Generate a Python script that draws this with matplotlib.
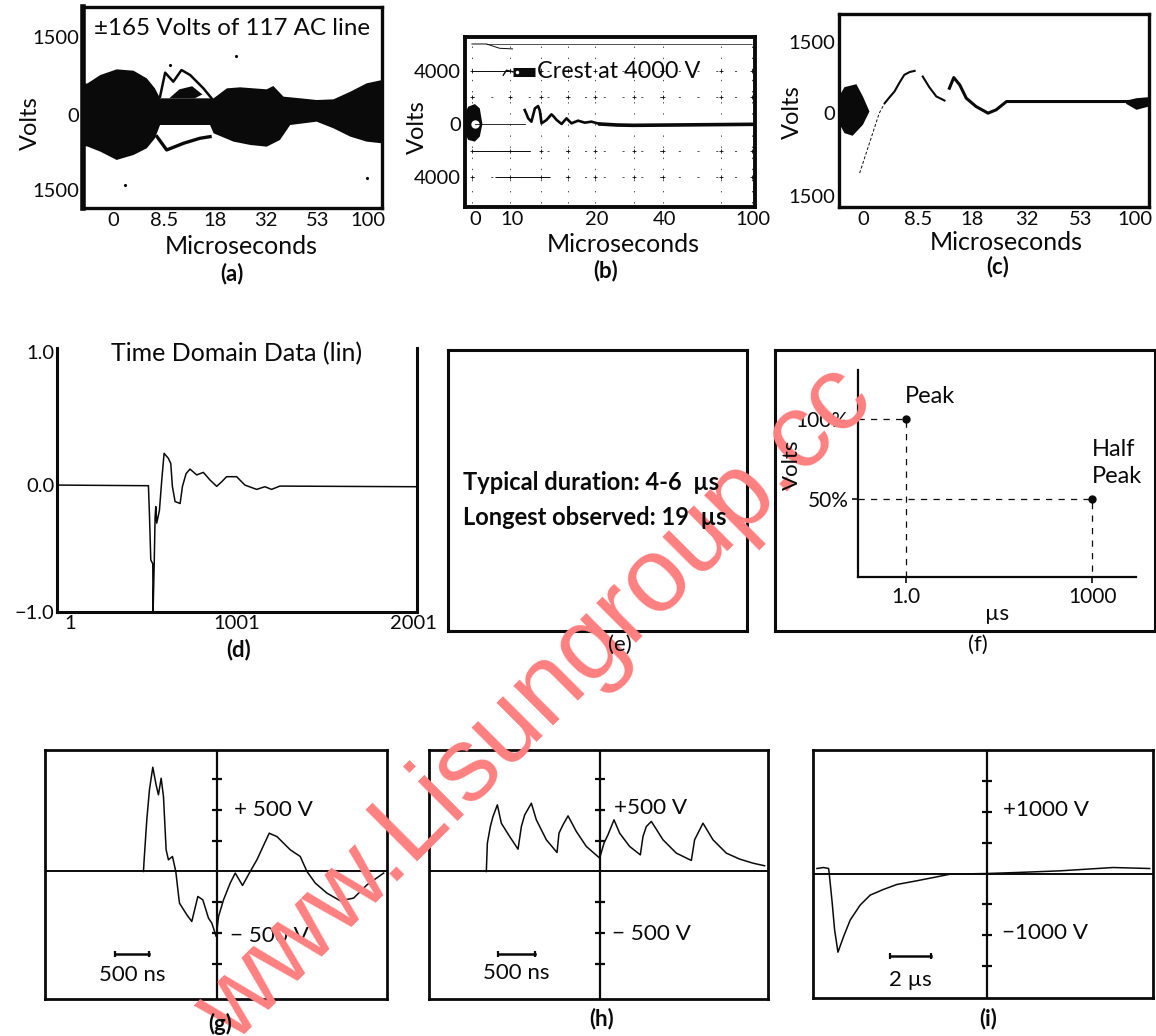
import matplotlib
matplotlib.use("Agg")
import matplotlib.pyplot as plt
from matplotlib.ticker import NullLocator

plt.rcParams['font.family'] = ['Lato', 'DejaVu Sans']

W, H = 1156, 1036
INK = '#0a0a0a'

# panel (a) - envelope of the AC line, x in scale divisions
a_x_up = [-0.60, -0.50, -0.25, 0.07, 0.40, 0.66, 0.82, 0.92, 1.97, 2.23, 2.49, 3.01, 3.14, 3.34, 3.67, 3.99, 4.32, 4.65, 4.97, 5.27]
a_v_up = [600, 617, 779, 889, 863, 714, 519, 325, 325, 519, 539, 500, 565, 357, 325, 292, 305, 454, 617, 681]
a_x_low = [-0.60, -0.50, -0.25, 0.07, 0.40, 0.66, 0.82, 0.92, 1.90, 1.97, 2.36, 2.69, 3.01, 3.27, 3.47, 3.99, 4.32, 4.65, 4.97, 5.27]
a_v_low = [-600, -615, -714, -876, -779, -649, -454, -195, -195, -357, -519, -584, -617, -487, -195, -130, -260, -422, -519, -552]
a_loop1_x = [0.92, 1.02, 1.18, 1.34, 1.51, 1.77, 1.93]
a_loop1_v = [357, 825, 649, 876, 779, 519, 325]
a_loop2_x = [0.86, 1.05, 1.38, 1.70, 1.90]
a_loop2_v = [-422, -681, -551, -454, -422]
a_isle_x = [1.10, 1.30, 1.55, 1.75, 1.60, 1.30]
a_isle_v = [325, 500, 560, 400, 325, 325]
a_specks_x = [0.24, 1.12, 4.98, 2.4]
a_specks_v = [-1370, 980, -1230, 1150]
a_ticks = [0, 1, 2, 3, 4, 5]
a_tick_labels = ['0', '8.5', '18', '32', '53', '100']

# panel (b)
b_trace_x = [1.72, 1.78, 1.84, 1.95, 2.07, 2.18, 2.24, 2.30, 2.47, 2.64, 2.72, 2.82, 2.99, 3.16, 3.33, 3.56, 3.79, 4.02, 4.31]
b_trace_v = [1046, 750, 423, 174, 1170, 1345, 1000, 50, 299, 722, 560, 299, 0, 423, 50, 249, 100, 174, 0]
b_tail_x = [4.31, 4.89, 5.46, 9.54]
b_tail_v = [0, -75, -100, -25]
b_blob_x = [-0.34, -0.23, 0, 0.17, 0.26, 0.17, 0, -0.23, -0.34]
b_blob_v = [797, 1295, 1494, 1170, 0, -946, -1320, -1195, -697]
b_ticks = [0, 1.28, 4.2, 6.55, 9.6]
b_tick_labels = ['0', '10', '20', '40', '100']
b_ytick_v = [-4000, 0, 4000]
b_ytick_labels = ['4000', '0', '4000']
b_grid_x = [-0.1, 1.2, 2.28, 3.2, 4.15, 5.5, 6.5, 8.5, 9.55]
b_grid_v = [-4000, -2000, 2000, 4000]
b_top_x = [-0.1, 0.4, 0.85, 1.3]
b_top_v = [6000, 6000, 5680, 5630]
b_lead_x = [0.98, 1.09, 1.32]
b_lead_v = [3660, 4030, 3910]
b_crest_x = [1.32, 2.07]
b_crest_v = [3934, 3934]
b_seg_x0 = [-0.1, 0.7, -0.1]
b_seg_x1 = [1.2, 2.6, 1.9]
b_seg_v = [4000, -4000, -2000]

# panel (c)
c_fast_x = [-0.07, 0.05, 0.17, 0.29, 0.39]
c_fast_v = [-1165, -776, -388, 0, 194]
c_rise_x = [0.39, 0.48, 0.57, 0.66, 0.75, 0.85, 0.94]
c_rise_v = [194, 310, 421, 590, 744, 800, 822]
c_fall_x = [1.09, 1.21, 1.34, 1.49]
c_fall_v = [712, 505, 324, 246]
c_last_x = [1.58, 1.66, 1.77, 1.89, 2.07, 2.29, 2.44, 2.63, 4.83, 5.25]
c_last_v = [485, 692, 550, 291, 129, 0, 65, 226, 226, 240]
c_blob_x = [-0.45, -0.35, -0.13, -0.01, 0.11, -0.01, -0.20, -0.35, -0.45]
c_blob_v = [324, 505, 563, 324, 32, -226, -440, -388, -194]
c_tail_x = [4.83, 5.02, 5.25]
c_tail_up = [239, 291, 311]
c_tail_low = [181, 65, 129]

# panel (d)
d_x = [1, 509, 515, 522, 533, 535, 541, 546, 550, 555, 570, 583, 596, 620, 633, 642, 657, 685, 698, 718, 740, 777, 814, 851, 888, 916, 943, 999, 1045, 1110, 1156, 1193, 1239, 1997]
d_y = [0, -0.005, -0.25, -0.59, -0.62, -0.99, -0.62, -0.25, -0.17, -0.30, -0.20, 0.04, 0.25, 0.21, 0.17, -0.01, -0.13, -0.145, -0.01, 0.09, 0.126, 0.08, 0.10, 0.04, -0.01, 0.026, 0.066, 0.066, 0, -0.034, -0.013, -0.034, -0.008, -0.013]

# panel (f)
f_peak = (1.0, 100)
f_half = (1000, 50)

# panels (g), (h), (i)
g_ns = [-1078, -1068, -1029, -990, -941, -892, -858, -818, -784, -745, -711, -652, -603, -578, -549, -441, -368, -279, -206, -123, -74, -10, 25, 98, 196, 270, 377, 490, 588, 769, 882, 1078, 1225, 1323, 1446, 1617, 1813, 2009, 2205, 2450]
g_v = [0, 94, 417, 659, 842, 699, 619, 753, 605, 175, 94, 121, 0, -121, -256, -350, -404, -202, -229, -377, -417, -525, -363, -229, -94, -13, -113, 0, 94, 309, 282, 175, 121, 0, -94, -175, -237, -215, -108, -13]
h_ns = [-1666, -1651, -1607, -1568, -1504, -1446, -1323, -1200, -1151, -1102, -1004, -931, -784, -627, -598, -539, -465, -343, -196, 0, 64, 122, 211, 294, 441, 598, 637, 686, 760, 931, 1127, 1348, 1396, 1445, 1519, 1666, 1862, 2058, 2254, 2425]
h_v = [0, 229, 363, 444, 538, 390, 282, 180, 363, 457, 551, 417, 256, 153, 309, 377, 449, 323, 202, 108, 229, 296, 417, 309, 202, 134, 282, 363, 404, 256, 148, 89, 256, 309, 390, 256, 148, 100, 67, 46]
i_us = [-8.16, -7.84, -7.6, -7.57, -7.44, -7.31, -7.15, -6.88, -6.56, -6.08, -5.6, -4.96, -4.32, -3.36, -2.56, -1.76, 0, 1.44, 3.52, 6.08, 7.84]
i_v = [81, 97, 81, 0, -430, -915, -1275, -1022, -753, -511, -350, -258, -178, -118, -65, -11, 0, 16, 43, 97, 81]
scope_divs_500 = [-750, -500, -250, 250, 500, 750]
scope_divs_1000 = [-1500, -1000, -500, 500, 1000, 1500]

fig = plt.figure(figsize=(W / 100, H / 100), dpi=100, facecolor='white')


def px_text(x, y, s, **kw):
    kw.setdefault('ha', 'center')
    kw.setdefault('va', 'center')
    kw.setdefault('fontsize', 16)
    kw.setdefault('color', INK)
    return fig.text(x / W, 1 - y / H, s, **kw)


def add_panel(x0, y0, x1, y1, lw=2.2):
    ax = fig.add_axes([x0 / W, 1 - y1 / H, (x1 - x0) / W, (y1 - y0) / H])
    ax.patch.set_alpha(0)
    for s in ax.spines.values():
        s.set_linewidth(lw)
        s.set_color(INK)
    ax.set_xticks([])
    ax.set_yticks([])
    return ax


def set_ticks(ax, xt, xl, yt, yl, pad=3):
    ax.set_xticks(xt, xl, fontsize=14.5)
    ax.set_yticks(yt, yl, fontsize=14.5)
    ax.tick_params(length=0, pad=pad, colors=INK)


def scope(box, xs, ys, xlim, ylim, divs, labels, bar, bar_text):
    ax = add_panel(*box, lw=2.0)
    ax.set_xlim(*xlim)
    ax.set_ylim(*ylim)
    ax.axhline(0, color=INK, lw=1.4)
    ax.axvline(0, color=INK, lw=1.6)
    ax.plot([0] * len(divs), divs, ls='none', marker='_', ms=7, mew=1.6, color=INK)
    ax.plot(xs, ys, color=INK, lw=1.1)
    for tx, ty, s in labels:
        ax.text(tx, ty, s, fontsize=16.2, ha='left', va='center', color=INK)
    ax.plot(bar[:2], [bar[2]] * 2, color=INK, lw=1.8, marker='|', ms=5, mew=1.6)
    ax.text(sum(bar[:2]) / 2, bar_text[0], bar_text[1], fontsize=16, ha='center', va='center', color=INK)
    return ax


# watermark sits under all panels, they have clear backgrounds
fig.text(536 / W, 1 - 705 / H, 'www.Lisungroup.cc', rotation=45, rotation_mode='anchor',
         ha='center', va='center', fontsize=76, color='#ff8080', family='Liberation Sans', zorder=0)

# (a)
ax = add_panel(83, 7, 382, 208, lw=2.4)
ax.spines['left'].set_linewidth(4.0)
ax.set_xlim(-0.59, 5.27)
ax.set_ylim(-1812, 2104)
ax.fill(a_x_up + a_x_low[::-1], a_v_up + a_v_low[::-1], color=INK, lw=0)
ax.fill(a_isle_x, a_isle_v, color=INK, lw=0)
ax.plot(a_loop1_x, a_loop1_v, color=INK, lw=1.8)
ax.plot(a_loop2_x, a_loop2_v, color=INK, lw=2.4)
ax.plot(a_specks_x, a_specks_v, ls='none', marker='.', ms=2.5, color=INK)
set_ticks(ax, a_ticks, a_tick_labels, [-1460, 0, 1525], ['1500', '0', '1500'])
ax.text(2.33, 1690, '\u00b1165 Volts of 117 AC line', fontsize=17.4, ha='center', va='center', color=INK)
px_text(241, 246, 'Microseconds', fontsize=18)
px_text(30, 123, 'Volts', rotation=90, fontsize=17)
px_text(232, 274, '(a)', fontweight='bold')

# (b)
ax = add_panel(465, 37, 755, 207, lw=2.8)
ax.set_xlim(-0.34, 9.66)
ax.set_ylim(-6225, 6524)
ax.hlines(b_grid_v, -0.1, 9.55, color=INK, lw=0.5, ls=(0, (3, 24)))
ax.vlines(b_grid_x, -5900, 6000, color=INK, lw=0.5, ls=(0, (2, 14)))
ax.hlines(6000, 0.4, 9.55, color=INK, lw=0.5)
ax.hlines(b_seg_v, b_seg_x0, b_seg_x1, color=INK, lw=0.7)
for gv in b_grid_v:
    ax.plot(b_grid_x, [gv] * len(b_grid_x), ls='none', marker='+', ms=3, mew=0.6, color=INK)
ax.plot(b_top_x, b_top_v, color=INK, lw=0.7)
ax.plot(b_lead_x, b_lead_v, color=INK, lw=1.0)
ax.fill(b_blob_x, b_blob_v, color=INK, lw=0)
ax.plot([0], [0], marker='o', ms=6, mfc='white', mec='none')
ax.plot(b_trace_x, b_trace_v, color=INK, lw=1.9)
ax.plot(b_tail_x, b_tail_v, color=INK, lw=2.6)
ax.plot([0, 1.72], [0, 0], color=INK, lw=0.6)
ax.plot(b_crest_x, b_crest_v, color=INK, lw=6.5, solid_capstyle='butt')
ax.plot(b_crest_x[0] + 0.12, b_crest_v[0], marker='o', ms=2.5, mfc='white', mec='none')
ax.text(2.14, 3950, 'Crest at 4000 V', fontsize=16.8, ha='left', va='center', color=INK)
set_ticks(ax, b_ticks, b_tick_labels, b_ytick_v, b_ytick_labels)
px_text(623, 245, 'Microseconds', fontsize=18)
px_text(417, 127, 'Volts', rotation=90, fontsize=17)
px_text(606, 271, '(b)', fontweight='bold')

# (c)
ax = add_panel(839, 14, 1149, 207, lw=2.4)
ax.set_xlim(-0.45, 5.25)
ax.set_ylim(-1825, 1928)
ax.fill(c_blob_x, c_blob_v, color=INK, lw=0)
ax.fill(c_tail_x + c_tail_x[::-1], c_tail_up + c_tail_low[::-1], color=INK, lw=0)
ax.plot(c_fast_x, c_fast_v, color=INK, lw=0.7, ls=(0, (3, 2)))
ax.plot(c_rise_x, c_rise_v, color=INK, lw=1.5)
ax.plot(c_fall_x, c_fall_v, color=INK, lw=1.5)
ax.plot(c_last_x, c_last_v, color=INK, lw=2.2)
set_ticks(ax, a_ticks, a_tick_labels, [-1617, 0, 1391], ['1500', '0', '1500'])
px_text(1006, 243, 'Microseconds', fontsize=18)
px_text(792, 112, 'Volts', rotation=90, fontsize=17)
px_text(998, 267, '(c)', fontweight='bold')

# (d)
ax = add_panel(57, 348, 417, 612, lw=2.2)
ax.spines['top'].set_visible(False)
ax.set_xlim(1, 2001)
ax.set_ylim(-1, 1.08)
ax.plot(d_x, d_y, color=INK, lw=1.1)
set_ticks(ax, [72, 1001, 1980], ['1', '1001', '2001'], [-1, 0, 1.05], ['\u22121.0', '0.0', '1.0'], pad=2)
ax.text(0.50, 0.98, 'Time Domain Data (lin)', transform=ax.transAxes, fontsize=18, ha='center', va='center', color=INK)
px_text(239, 650, '(d)', fontweight='bold')

# (e)
ax = add_panel(448, 350, 747, 631)
px_text(463, 483, 'Typical duration: 4-6  \u00b5s', ha='left', fontweight='bold', fontsize=17)
px_text(463, 517, 'Longest observed: 19  \u00b5s', ha='left', fontweight='bold', fontsize=17)
px_text(620, 645, '(e)')

# (f)
add_panel(775, 350, 1155, 631)
ax = add_panel(858, 370, 1136, 577, lw=1.6)
ax.spines['top'].set_visible(False)
ax.spines['right'].set_visible(False)
ax.set_xscale('log')
ax.set_xlim(0.168, 5120)
ax.set_ylim(1.25, 130.6)
ax.xaxis.set_minor_locator(NullLocator())
ax.plot([0.168, f_peak[0], f_peak[0]], [f_peak[1], f_peak[1], 1.25], color=INK, lw=0.9, ls=(0, (5, 5)))
ax.plot([0.168, f_half[0], f_half[0]], [f_half[1], f_half[1], 1.25], color=INK, lw=0.9, ls=(0, (5, 5)))
ax.plot([f_peak[0], f_half[0]], [f_peak[1], f_half[1]], ls='none', marker='o', ms=5, color=INK)
ax.set_xticks([1, 1000], ['1.0', '1000'], fontsize=15)
ax.set_yticks([50, 100], ['50%', '100%'], fontsize=15)
ax.tick_params(length=4, width=1.2, pad=3, colors=INK)
ax.text(0.95, 114, 'Peak', fontsize=17, color=INK, va='center')
ax.text(980, 81, 'Half', fontsize=17, color=INK, va='center')
ax.text(980, 64, 'Peak', fontsize=17, color=INK, va='center')
px_text(997, 614, '\u00b5s')
px_text(792, 465, 'Volts', rotation=90)
px_text(978, 645, '(f)')

# (g)
scope((45, 750, 387, 999), g_ns, g_v, (-2524, 2499), (-1030, 981), scope_divs_500,
      [(245, 497, '+ 500 V'), (196, -525, '\u2212 500 V')], (-1494, -995, -667), (-834, '500 ns'))
px_text(220, 1024, '(g)', fontweight='bold')

# (h)
scope((429, 750, 768, 999), h_ns, h_v, (-2509, 2475), (-1030, 981), scope_divs_500,
      [(210, 516, '+500 V'), (186, -506, '\u2212 500 V')], (-1490, -955, -667), (-820, '500 ns'))
px_text(602, 1019, '(h)', fontweight='bold')

# (i)
scope((813, 750, 1153, 998), i_us, i_v, (-8.35, 8.0), (-2017, 2001), scope_divs_1000,
      [(0.77, 1033, '+1000 V'), (0.72, -968, '\u22121000 V')], (-4.67, -2.67, -1334), (-1732, '2 \u00b5s'))
px_text(988, 1019, '(i)', fontweight='bold')

fig.savefig('out.png', dpi=100)
